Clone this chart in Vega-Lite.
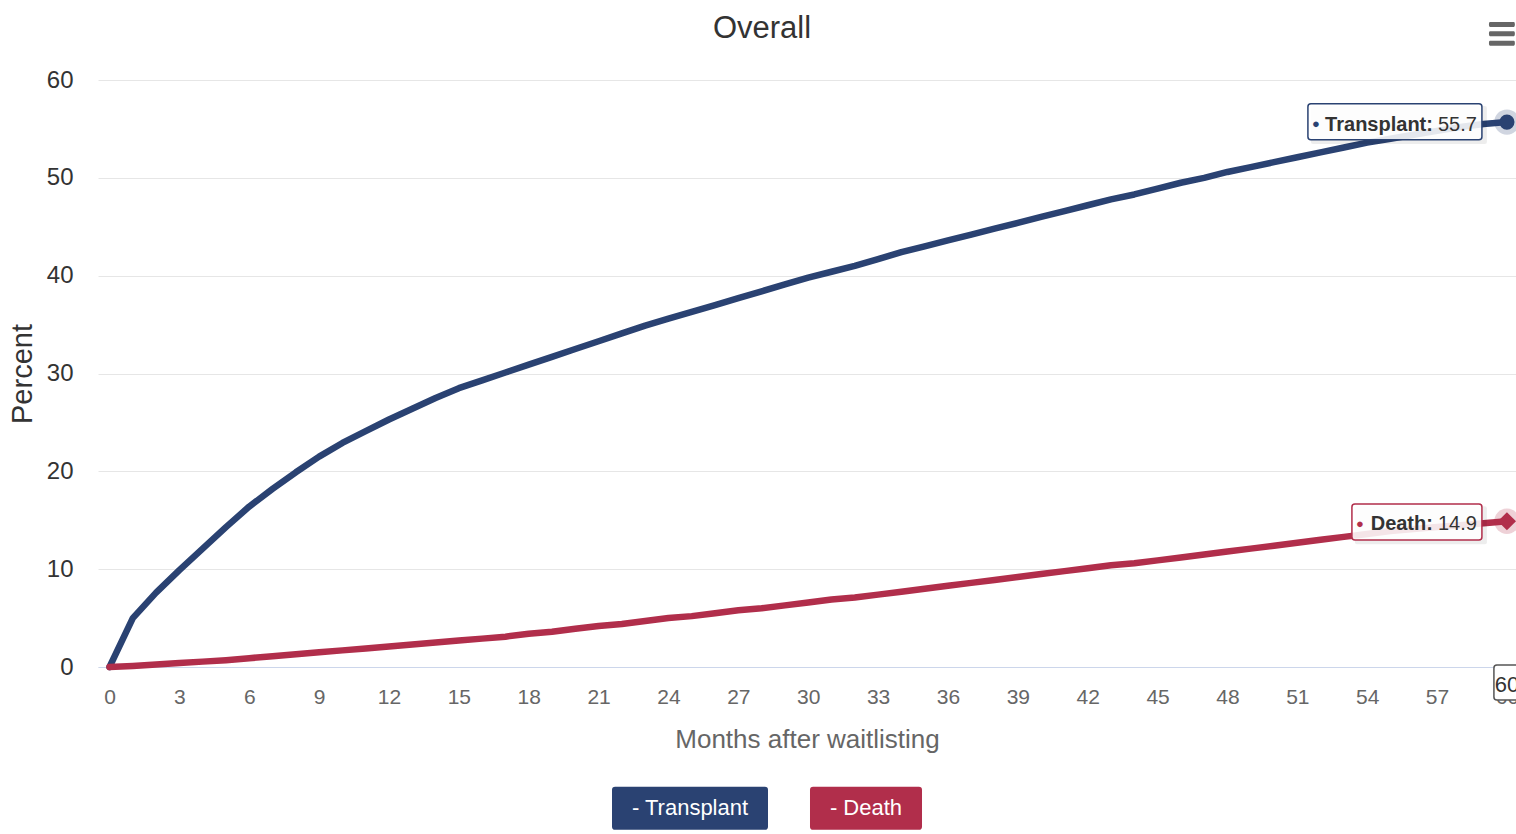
{
  "$schema": "https://vega.github.io/schema/vega-lite/v6.json",
  "width": 1418,
  "height": 587,
  "autosize": "none",
  "padding": {"left": 98, "top": 80, "right": 0, "bottom": 167},
  "background": "white",
  "config": {
    "view": {"stroke": null},
    "font": "Liberation Sans, Arial, sans-serif"
  },
  "title": {
    "text": "Overall",
    "fontSize": 31,
    "fontWeight": "normal",
    "color": "#333333",
    "anchor": "middle",
    "dx": -45,
    "dy": 25,
    "offset": -22,
    "baseline": "alphabetic"
  },
  "datasets": {
    "curves": [
      {"series": "Transplant", "month": 0, "value": 0},
      {"series": "Transplant", "month": 1, "value": 5.0},
      {"series": "Transplant", "month": 2, "value": 7.6},
      {"series": "Transplant", "month": 3, "value": 9.9},
      {"series": "Transplant", "month": 4, "value": 12.1},
      {"series": "Transplant", "month": 5, "value": 14.3},
      {"series": "Transplant", "month": 6, "value": 16.4},
      {"series": "Transplant", "month": 7, "value": 18.2},
      {"series": "Transplant", "month": 8, "value": 19.9},
      {"series": "Transplant", "month": 9, "value": 21.5},
      {"series": "Transplant", "month": 10, "value": 22.9},
      {"series": "Transplant", "month": 11, "value": 24.1},
      {"series": "Transplant", "month": 12, "value": 25.3},
      {"series": "Transplant", "month": 13, "value": 26.4},
      {"series": "Transplant", "month": 14, "value": 27.5},
      {"series": "Transplant", "month": 15, "value": 28.5},
      {"series": "Transplant", "month": 16, "value": 29.3},
      {"series": "Transplant", "month": 17, "value": 30.1},
      {"series": "Transplant", "month": 18, "value": 30.9},
      {"series": "Transplant", "month": 19, "value": 31.7},
      {"series": "Transplant", "month": 20, "value": 32.5},
      {"series": "Transplant", "month": 21, "value": 33.3},
      {"series": "Transplant", "month": 22, "value": 34.1},
      {"series": "Transplant", "month": 23, "value": 34.9},
      {"series": "Transplant", "month": 24, "value": 35.6},
      {"series": "Transplant", "month": 25, "value": 36.3},
      {"series": "Transplant", "month": 26, "value": 37.0},
      {"series": "Transplant", "month": 27, "value": 37.7},
      {"series": "Transplant", "month": 28, "value": 38.4},
      {"series": "Transplant", "month": 29, "value": 39.1},
      {"series": "Transplant", "month": 30, "value": 39.8},
      {"series": "Transplant", "month": 31, "value": 40.4},
      {"series": "Transplant", "month": 32, "value": 41.0},
      {"series": "Transplant", "month": 33, "value": 41.7},
      {"series": "Transplant", "month": 34, "value": 42.4},
      {"series": "Transplant", "month": 35, "value": 43.0},
      {"series": "Transplant", "month": 36, "value": 43.6},
      {"series": "Transplant", "month": 37, "value": 44.2},
      {"series": "Transplant", "month": 38, "value": 44.8},
      {"series": "Transplant", "month": 39, "value": 45.4},
      {"series": "Transplant", "month": 40, "value": 46.0},
      {"series": "Transplant", "month": 41, "value": 46.6},
      {"series": "Transplant", "month": 42, "value": 47.2},
      {"series": "Transplant", "month": 43, "value": 47.8},
      {"series": "Transplant", "month": 44, "value": 48.3},
      {"series": "Transplant", "month": 45, "value": 48.9},
      {"series": "Transplant", "month": 46, "value": 49.5},
      {"series": "Transplant", "month": 47, "value": 50.0},
      {"series": "Transplant", "month": 48, "value": 50.6},
      {"series": "Transplant", "month": 49, "value": 51.1},
      {"series": "Transplant", "month": 50, "value": 51.6},
      {"series": "Transplant", "month": 51, "value": 52.1},
      {"series": "Transplant", "month": 52, "value": 52.6},
      {"series": "Transplant", "month": 53, "value": 53.1},
      {"series": "Transplant", "month": 54, "value": 53.6},
      {"series": "Transplant", "month": 55, "value": 54.0},
      {"series": "Transplant", "month": 56, "value": 54.4},
      {"series": "Transplant", "month": 57, "value": 54.8},
      {"series": "Transplant", "month": 58, "value": 55.2},
      {"series": "Transplant", "month": 59, "value": 55.5},
      {"series": "Transplant", "month": 60, "value": 55.7},
      {"series": "Death", "month": 0, "value": 0},
      {"series": "Death", "month": 1, "value": 0.1},
      {"series": "Death", "month": 2, "value": 0.25},
      {"series": "Death", "month": 3, "value": 0.4},
      {"series": "Death", "month": 4, "value": 0.55},
      {"series": "Death", "month": 5, "value": 0.7},
      {"series": "Death", "month": 6, "value": 0.9},
      {"series": "Death", "month": 7, "value": 1.1},
      {"series": "Death", "month": 8, "value": 1.3},
      {"series": "Death", "month": 9, "value": 1.5},
      {"series": "Death", "month": 10, "value": 1.7},
      {"series": "Death", "month": 11, "value": 1.9},
      {"series": "Death", "month": 12, "value": 2.1},
      {"series": "Death", "month": 13, "value": 2.3},
      {"series": "Death", "month": 14, "value": 2.5},
      {"series": "Death", "month": 15, "value": 2.7},
      {"series": "Death", "month": 16, "value": 2.9},
      {"series": "Death", "month": 17, "value": 3.1},
      {"series": "Death", "month": 18, "value": 3.4},
      {"series": "Death", "month": 19, "value": 3.6},
      {"series": "Death", "month": 20, "value": 3.9},
      {"series": "Death", "month": 21, "value": 4.2},
      {"series": "Death", "month": 22, "value": 4.4},
      {"series": "Death", "month": 23, "value": 4.7},
      {"series": "Death", "month": 24, "value": 5.0},
      {"series": "Death", "month": 25, "value": 5.2},
      {"series": "Death", "month": 26, "value": 5.5},
      {"series": "Death", "month": 27, "value": 5.8},
      {"series": "Death", "month": 28, "value": 6.0},
      {"series": "Death", "month": 29, "value": 6.3},
      {"series": "Death", "month": 30, "value": 6.6},
      {"series": "Death", "month": 31, "value": 6.9},
      {"series": "Death", "month": 32, "value": 7.1},
      {"series": "Death", "month": 33, "value": 7.4},
      {"series": "Death", "month": 34, "value": 7.7},
      {"series": "Death", "month": 35, "value": 8.0},
      {"series": "Death", "month": 36, "value": 8.3},
      {"series": "Death", "month": 37, "value": 8.6},
      {"series": "Death", "month": 38, "value": 8.9},
      {"series": "Death", "month": 39, "value": 9.2},
      {"series": "Death", "month": 40, "value": 9.5},
      {"series": "Death", "month": 41, "value": 9.8},
      {"series": "Death", "month": 42, "value": 10.1},
      {"series": "Death", "month": 43, "value": 10.4},
      {"series": "Death", "month": 44, "value": 10.6},
      {"series": "Death", "month": 45, "value": 10.9},
      {"series": "Death", "month": 46, "value": 11.2},
      {"series": "Death", "month": 47, "value": 11.5},
      {"series": "Death", "month": 48, "value": 11.8},
      {"series": "Death", "month": 49, "value": 12.1},
      {"series": "Death", "month": 50, "value": 12.4},
      {"series": "Death", "month": 51, "value": 12.7},
      {"series": "Death", "month": 52, "value": 13.0},
      {"series": "Death", "month": 53, "value": 13.3},
      {"series": "Death", "month": 54, "value": 13.6},
      {"series": "Death", "month": 55, "value": 13.9},
      {"series": "Death", "month": 56, "value": 14.1},
      {"series": "Death", "month": 57, "value": 14.3},
      {"series": "Death", "month": 58, "value": 14.5},
      {"series": "Death", "month": 59, "value": 14.7},
      {"series": "Death", "month": 60, "value": 14.9}
    ],
    "latest": [
      {"series": "Transplant", "month": 60, "value": 55.7},
      {"series": "Death", "month": 60, "value": 14.9}
    ]
  },
  "encoding": {
    "x": {
      "field": "month",
      "type": "quantitative",
      "scale": {"domain": [-0.494, 60.39], "nice": false, "zero": false},
      "axis": {
        "values": [0, 3, 6, 9, 12, 15, 18, 21, 24, 27, 30, 33, 36, 39, 42, 45, 48, 51, 54, 57, 60],
        "grid": false,
        "ticks": false,
        "domainColor": "#ccd6eb",
        "domainWidth": 1,
        "labelFontSize": 21,
        "labelColor": "#666666",
        "labelPadding": 19,
        "labelFlush": false,
        "labelOverlap": false,
        "title": "Months after waitlisting",
        "titleFontSize": 26,
        "titleFontWeight": "normal",
        "titleColor": "#666666",
        "titleBaseline": "alphabetic",
        "titleY": 80
      }
    },
    "y": {
      "field": "value",
      "type": "quantitative",
      "scale": {"domain": [0, 60], "nice": false},
      "axis": {
        "values": [0, 10, 20, 30, 40, 50, 60],
        "grid": true,
        "gridColor": "#e6e6e6",
        "gridWidth": 1,
        "domain": false,
        "ticks": false,
        "labelFontSize": 24,
        "labelColor": "#333333",
        "labelPadding": 25,
        "title": "Percent",
        "titleFontSize": 29,
        "titleFontWeight": "normal",
        "titleColor": "#333333",
        "titleX": -76,
        "titleY": 293.5,
        "titleBaseline": "middle"
      }
    }
  },
  "layer": [
    {
      "data": {"name": "curves"},
      "transform": [{"filter": "datum.series === 'Transplant'"}],
      "mark": {"type": "line", "strokeWidth": 6.5, "strokeJoin": "round", "strokeCap": "round", "color": "#2a4272"}
    },
    {
      "data": {"name": "curves"},
      "transform": [{"filter": "datum.series === 'Death'"}],
      "mark": {"type": "line", "strokeWidth": 6.5, "strokeJoin": "round", "strokeCap": "round", "color": "#b12e4b"}
    },
    {
      "data": {"name": "latest"},
      "mark": {"type": "point", "filled": true, "opacity": 1},
      "encoding": {
        "color": {
          "field": "series",
          "type": "nominal",
          "scale": {"domain": ["Transplant", "Death"], "range": ["#2a4272", "#b12e4b"]},
          "legend": {
            "orient": "none",
            "legendX": 514,
            "legendY": 650,
            "direction": "horizontal",
            "title": null,
            "padding": 0,
            "symbolSize": 24336,
            "symbolOpacity": 1,
            "symbolStrokeWidth": 0,
            "labelAlign": "center",
            "labelBaseline": "middle",
            "labelOffset": -78,
            "labelColor": "white",
            "labelFontSize": 22,
            "labelLimit": 0,
            "labelExpr": "'- ' + datum.label",
            "columnPadding": 20
          }
        },
        "shape": {
          "field": "series",
          "type": "nominal",
          "scale": {
            "domain": ["Transplant", "Death"],
            "range": [
              "M-0.96,-0.2756 L0.96,-0.2756 Q1,-0.2756 1,-0.2356 L1,0.2356 Q1,0.2756 0.96,0.2756 L-0.96,0.2756 Q-1,0.2756 -1,0.2356 L-1,-0.2356 Q-1,-0.2756 -0.96,-0.2756 Z",
              "M-0.678,-0.2756 L0.678,-0.2756 Q0.718,-0.2756 0.718,-0.2356 L0.718,0.2356 Q0.718,0.2756 0.678,0.2756 L-0.678,0.2756 Q-0.718,0.2756 -0.718,0.2356 L-0.718,-0.2356 Q-0.718,-0.2756 -0.678,-0.2756 Z"
            ]
          }
        }
      }
    },
    {
      "data": {"name": "latest"},
      "transform": [{"filter": "datum.series === 'Transplant'"}],
      "mark": {"type": "point", "shape": "circle", "filled": true, "size": 640, "color": "#2a4272", "opacity": 0.22}
    },
    {
      "data": {"name": "latest"},
      "transform": [{"filter": "datum.series === 'Death'"}],
      "mark": {"type": "point", "shape": "circle", "filled": true, "size": 640, "color": "#b12e4b", "opacity": 0.22}
    },
    {
      "data": {"name": "latest"},
      "transform": [{"filter": "datum.series === 'Transplant'"}],
      "mark": {"type": "point", "shape": "circle", "filled": true, "size": 230, "color": "#2a4272", "opacity": 1}
    },
    {
      "data": {"name": "latest"},
      "transform": [{"filter": "datum.series === 'Death'"}],
      "mark": {"type": "point", "shape": "diamond", "filled": true, "size": 330, "color": "#b12e4b", "opacity": 1}
    },
    {
      "data": {"name": "latest"},
      "transform": [{"filter": "datum.series === 'Transplant'"}],
      "mark": {
        "type": "point",
        "size": 40000,
        "shape": "M-1.94,-0.16 L-0.22,-0.16 Q-0.2,-0.16 -0.2,-0.14 L-0.2,0.2 Q-0.2,0.22 -0.22,0.22 L-1.94,0.22 Q-1.96,0.22 -1.96,0.2 L-1.96,-0.14 Q-1.96,-0.16 -1.94,-0.16 Z",
        "fill": "#000000",
        "fillOpacity": 0.07,
        "strokeWidth": 0,
        "opacity": 1
      }
    },
    {
      "data": {"name": "latest"},
      "transform": [{"filter": "datum.series === 'Transplant'"}],
      "mark": {
        "type": "point",
        "size": 40000,
        "shape": "M-1.96,-0.183 L-0.28,-0.183 Q-0.25,-0.183 -0.25,-0.153 L-0.25,0.147 Q-0.25,0.177 -0.28,0.177 L-1.96,0.177 Q-1.99,0.177 -1.99,0.147 L-1.99,-0.153 Q-1.99,-0.183 -1.96,-0.183 Z",
        "fill": "white",
        "fillOpacity": 0.88,
        "stroke": "#2a4272",
        "strokeWidth": 1.5,
        "opacity": 1
      }
    },
    {
      "data": {"name": "latest"},
      "transform": [{"filter": "datum.series === 'Death'"}],
      "mark": {
        "type": "point",
        "size": 40000,
        "shape": "M-1.5,-0.15 L-0.22,-0.15 Q-0.2,-0.15 -0.2,-0.13 L-0.2,0.21 Q-0.2,0.23 -0.22,0.23 L-1.5,0.23 Q-1.52,0.23 -1.52,0.21 L-1.52,-0.13 Q-1.52,-0.15 -1.5,-0.15 Z",
        "fill": "#000000",
        "fillOpacity": 0.07,
        "strokeWidth": 0,
        "opacity": 1
      }
    },
    {
      "data": {"name": "latest"},
      "transform": [{"filter": "datum.series === 'Death'"}],
      "mark": {
        "type": "point",
        "size": 40000,
        "shape": "M-1.52,-0.172 L-0.28,-0.172 Q-0.25,-0.172 -0.25,-0.142 L-0.25,0.158 Q-0.25,0.188 -0.28,0.188 L-1.52,0.188 Q-1.55,0.188 -1.55,0.158 L-1.55,-0.142 Q-1.55,-0.172 -1.52,-0.172 Z",
        "fill": "white",
        "fillOpacity": 0.88,
        "stroke": "#b12e4b",
        "strokeWidth": 1.5,
        "opacity": 1
      }
    },
    {
      "data": {"name": "latest"},
      "transform": [{"filter": "datum.series === 'Transplant'"}],
      "mark": {"type": "text", "text": "●", "fontSize": 13, "align": "center", "baseline": "middle", "dx": -191, "dy": 2, "color": "#2a4272"}
    },
    {
      "data": {"name": "latest"},
      "transform": [{"filter": "datum.series === 'Death'"}],
      "mark": {"type": "text", "text": "●", "fontSize": 13, "align": "center", "baseline": "middle", "dx": -147, "dy": 3, "color": "#b12e4b"}
    },
    {
      "data": {"name": "latest"},
      "transform": [{"calculate": "datum.series + ':'", "as": "tag"}],
      "mark": {"type": "text", "fontSize": 20, "fontWeight": "bold", "align": "right", "baseline": "alphabetic", "dx": -74, "dy": 9, "color": "#333333"},
      "encoding": {"text": {"field": "tag", "type": "nominal"}}
    },
    {
      "data": {"name": "latest"},
      "mark": {"type": "text", "fontSize": 20, "align": "right", "baseline": "alphabetic", "dx": -30, "dy": 9, "color": "#333333"},
      "encoding": {"text": {"field": "value", "type": "quantitative", "format": ".1f"}}
    },
    {
      "data": {"name": "latest"},
      "transform": [{"filter": "datum.series === 'Transplant'"}],
      "mark": {
        "type": "point",
        "size": 40000,
        "shape": "M-0.1,-0.02 L0.1,-0.02 Q0.13,-0.02 0.13,0.01 L0.13,0.3 Q0.13,0.33 0.1,0.33 L-0.1,0.33 Q-0.13,0.33 -0.13,0.3 L-0.13,0.01 Q-0.13,-0.02 -0.1,-0.02 Z",
        "fill": "white",
        "stroke": "#555555",
        "strokeWidth": 1.5,
        "opacity": 1
      },
      "encoding": {"y": {"datum": 0}}
    },
    {
      "data": {"name": "latest"},
      "transform": [{"filter": "datum.series === 'Transplant'"}],
      "mark": {"type": "text", "fontSize": 22, "align": "center", "baseline": "alphabetic", "dy": 25, "color": "#333333"},
      "encoding": {"y": {"datum": 0}, "text": {"field": "month", "type": "quantitative"}}
    },
    {
      "data": {"name": "latest"},
      "transform": [{"filter": "datum.series === 'Transplant'"}],
      "mark": {
        "type": "point",
        "size": 676,
        "shape": "M-0.92,-0.92 L0.92,-0.92 Q1,-0.92 1,-0.73 Q1,-0.54 0.92,-0.54 L-0.92,-0.54 Q-1,-0.54 -1,-0.73 Q-1,-0.92 -0.92,-0.92 Z M-0.92,-0.21 L0.92,-0.21 Q1,-0.21 1,-0.02 Q1,0.17 0.92,0.17 L-0.92,0.17 Q-1,0.17 -1,-0.02 Q-1,-0.21 -0.92,-0.21 Z M-0.92,0.52 L0.92,0.52 Q1,0.52 1,0.71 Q1,0.9 0.92,0.9 L-0.92,0.9 Q-1,0.9 -1,0.71 Q-1,0.52 -0.92,0.52 Z",
        "filled": true,
        "color": "#666666",
        "opacity": 1
      },
      "encoding": {"x": {"datum": 59.785}, "y": {"datum": 64.7}}
    }
  ]
}
